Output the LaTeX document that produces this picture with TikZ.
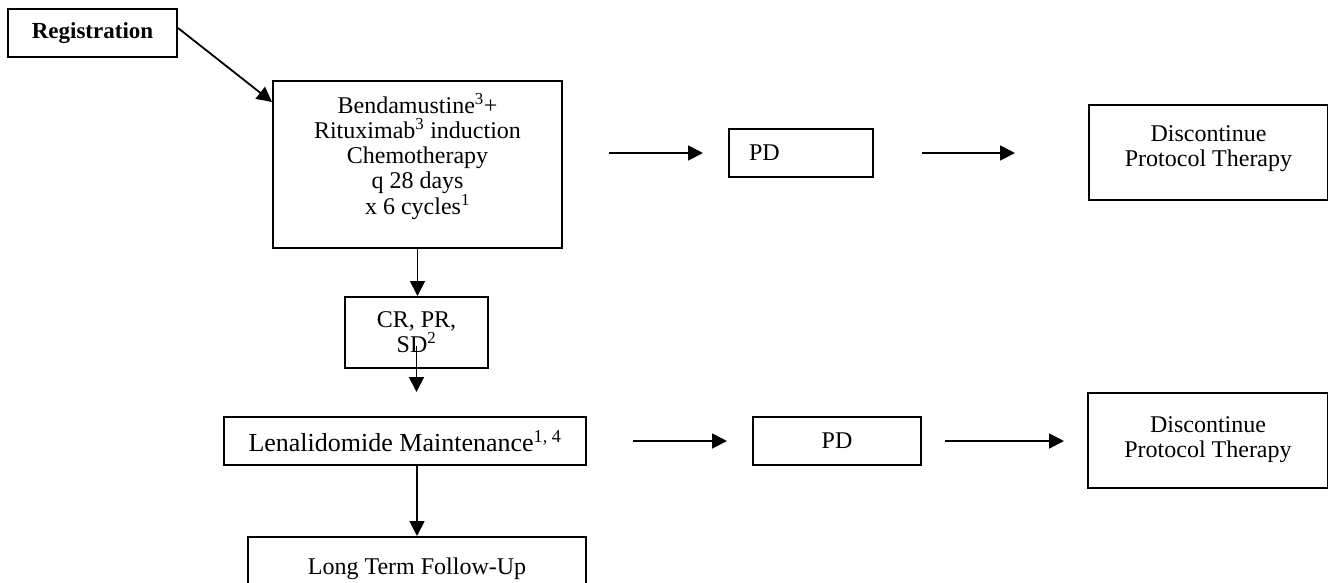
\documentclass[tikz,border=0pt]{standalone}
\usepackage{fontspec}
\setmainfont{Liberation Serif}
\usetikzlibrary{arrows.meta}

\begin{document}
\begin{tikzpicture}[
  x=1pt, y=-1pt,
  box/.style={rectangle, draw=black, line width=2pt, inner sep=0pt, align=center, font=\fontsize{24}{25}\selectfont},
  arrow/.style={-{Triangle[length=15pt,width=15pt]}, line width=1.8pt}
]
  \useasboundingbox (0,0) rectangle (1328,582);

  \node[box, minimum width=169pt, minimum height=48pt, font=\fontsize{23}{25}\selectfont\bfseries] (reg) at (92.5,33) {Registration};
  \node[box, minimum width=289pt, minimum height=167pt, text depth=21pt] (chemo) at (417.5,164.5) {Bendamustine\textsuperscript{3}+\\Rituximab\textsuperscript{3} induction\\Chemotherapy\\q 28 days\\x 6 cycles\textsuperscript{1}};
  \node[box, minimum width=144pt, minimum height=48pt, text width=104pt, inner xsep=20pt, align=left] (pdA) at (801,153) {PD};
  \node[box, minimum width=239pt, minimum height=95pt, text depth=13pt] (discA) at (1208.5,152.5) {Discontinue\\Protocol Therapy};
  \node[box, minimum width=143pt, minimum height=71pt, text depth=0pt] (resp) at (416.5,332.5) {CR, PR,\\SD\textsuperscript{2}};
  \node[box, minimum width=362pt, minimum height=48pt, font=\fontsize{26}{28}\selectfont] (lena) at (405,441) {Lenalidomide Maintenance\textsuperscript{1, 4}};
  \node[box, minimum width=168pt, minimum height=48pt] (pdB) at (837,441) {PD};
  \node[box, minimum width=240pt, minimum height=95pt, text depth=7pt] (discB) at (1208,440.5) {Discontinue\\Protocol Therapy};
  \node[box, minimum width=338pt, minimum height=63pt] (ltfu) at (417,568.5) {Long Term Follow-Up};

  \draw[arrow] ([yshift=5pt]reg.east) -- ([yshift=-22pt]chemo.north west);
  \draw[arrow, shorten <=46pt, shorten >=25pt] (chemo.east |- pdA.west) -- (pdA.west);
  \draw[arrow, shorten <=48pt, shorten >=73pt] (pdA.east) -- (discA.west |- pdA.east);
  \draw[arrow] (chemo.south) -- (chemo.south |- resp.north);
  \draw[arrow, shorten <=-23pt, shorten >=24pt] (resp.south) -- (resp.south |- lena.north);
  \draw[arrow] (ltfu.north |- lena.south) -- (ltfu.north);
  \draw[arrow, shorten <=46pt, shorten >=25pt] (lena.east) -- (pdB.west);
  \draw[arrow, shorten <=23pt, shorten >=23pt] (pdB.east) -- (discB.west |- pdB.east);
\end{tikzpicture}
\end{document}
